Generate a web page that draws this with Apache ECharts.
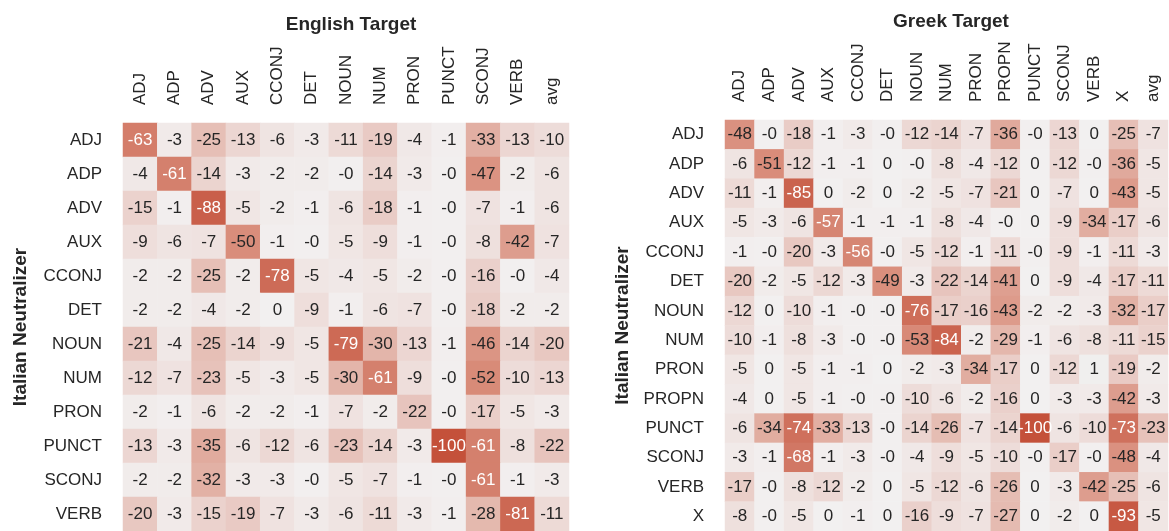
<!DOCTYPE html>
<html>
<head>
<meta charset="utf-8">
<script src="https://cdn.jsdelivr.net/npm/echarts@6/dist/echarts.min.js"></script>
<style>
  html, body { margin: 0; padding: 0; background: #fff; }
  #chart { width: 1169px; height: 531px; }
</style>
</head>
<body>
<div id="chart"></div>
<script>
// -0.3 stands for cells printed as "-0"
const englishCols = ['ADJ', 'ADP', 'ADV', 'AUX', 'CCONJ', 'DET', 'NOUN', 'NUM', 'PRON', 'PUNCT', 'SCONJ', 'VERB', 'avg'];
const englishRows = ['ADJ', 'ADP', 'ADV', 'AUX', 'CCONJ', 'DET', 'NOUN', 'NUM', 'PRON', 'PUNCT', 'SCONJ', 'VERB'];
const englishValues = [
  [-63, -3, -25, -13, -6, -3, -11, -19, -4, -1, -33, -13, -10],
  [-4, -61, -14, -3, -2, -2, -0.3, -14, -3, -0.3, -47, -2, -6],
  [-15, -1, -88, -5, -2, -1, -6, -18, -1, -0.3, -7, -1, -6],
  [-9, -6, -7, -50, -1, -0.3, -5, -9, -1, -0.3, -8, -42, -7],
  [-2, -2, -25, -2, -78, -5, -4, -5, -2, -0.3, -16, -0.3, -4],
  [-2, -2, -4, -2, 0, -9, -1, -6, -7, -0.3, -18, -2, -2],
  [-21, -4, -25, -14, -9, -5, -79, -30, -13, -1, -46, -14, -20],
  [-12, -7, -23, -5, -3, -5, -30, -61, -9, -0.3, -52, -10, -13],
  [-2, -1, -6, -2, -2, -1, -7, -2, -22, -0.3, -17, -5, -3],
  [-13, -3, -35, -6, -12, -6, -23, -14, -3, -100, -61, -8, -22],
  [-2, -2, -32, -3, -3, -0.3, -5, -7, -1, -0.3, -61, -1, -3],
  [-20, -3, -15, -19, -7, -3, -6, -11, -3, -1, -28, -81, -11]
];

const greekCols = ['ADJ', 'ADP', 'ADV', 'AUX', 'CCONJ', 'DET', 'NOUN', 'NUM', 'PRON', 'PROPN', 'PUNCT', 'SCONJ', 'VERB', 'X', 'avg'];
const greekRows = ['ADJ', 'ADP', 'ADV', 'AUX', 'CCONJ', 'DET', 'NOUN', 'NUM', 'PRON', 'PROPN', 'PUNCT', 'SCONJ', 'VERB', 'X'];
const greekValues = [
  [-48, -0.3, -18, -1, -3, -0.3, -12, -14, -7, -36, -0.3, -13, 0, -25, -7],
  [-6, -51, -12, -1, -1, 0, -0.3, -8, -4, -12, 0, -12, -0.3, -36, -5],
  [-11, -1, -85, 0, -2, 0, -2, -5, -7, -21, 0, -7, 0, -43, -5],
  [-5, -3, -6, -57, -1, -1, -1, -8, -4, -0.3, 0, -9, -34, -17, -6],
  [-1, -0.3, -20, -3, -56, -0.3, -5, -12, -1, -11, -0.3, -9, -1, -11, -3],
  [-20, -2, -5, -12, -3, -49, -3, -22, -14, -41, 0, -9, -4, -17, -11],
  [-12, 0, -10, -1, -0.3, -0.3, -76, -17, -16, -43, -2, -2, -3, -32, -17],
  [-10, -1, -8, -3, -0.3, -0.3, -53, -84, -2, -29, -1, -6, -8, -11, -15],
  [-5, 0, -5, -1, -1, 0, -2, -3, -34, -17, 0, -12, 1, -19, -2],
  [-4, 0, -5, -1, -0.3, -0.3, -10, -6, -2, -16, 0, -3, -3, -42, -3],
  [-6, -34, -74, -33, -13, -0.3, -14, -26, -7, -14, -100, -6, -10, -73, -23],
  [-3, -1, -68, -1, -3, -0.3, -4, -9, -5, -10, -0.3, -17, -0.3, -48, -4],
  [-17, -0.3, -8, -12, -2, 0, -5, -12, -6, -26, 0, -3, -42, -25, -6],
  [-8, -0.3, -5, 0, -1, 0, -16, -9, -7, -27, 0, -2, 0, -93, -5]
];

const font = '"Liberation Sans", Arial, sans-serif';
const textDark = '#262626';

function toCells(values) {
  const out = [];
  values.forEach((row, r) => {
    row.forEach((v, c) => {
      out.push({
        value: [c, r, v],
        label: { color: v < -54 ? '#ffffff' : textDark }
      });
    });
  });
  return out;
}

function xAxisFor(cols, gridIndex) {
  return {
    type: 'category',
    gridIndex: gridIndex,
    position: 'top',
    data: cols,
    axisLine: { show: false },
    axisTick: { show: false },
    splitLine: { show: false },
    axisLabel: {
      rotate: -90,
      margin: 18,
      color: textDark,
      fontSize: 17,
      fontFamily: font,
      interval: 0
    }
  };
}

function yAxisFor(rows, gridIndex, gap) {
  return {
    type: 'category',
    gridIndex: gridIndex,
    inverse: true,
    data: rows,
    name: 'Italian Neutralizer',
    nameLocation: 'middle',
    nameGap: gap,
    nameTextStyle: {
      color: textDark,
      fontSize: 19,
      fontWeight: 'bold',
      fontFamily: font
    },
    axisLine: { show: false },
    axisTick: { show: false },
    splitLine: { show: false },
    axisLabel: {
      margin: 21,
      color: textDark,
      fontSize: 17,
      fontFamily: font,
      interval: 0
    }
  };
}

function heatSeries(values, idx) {
  return {
    type: 'heatmap',
    xAxisIndex: idx,
    yAxisIndex: idx,
    data: toCells(values),
    label: {
      show: true,
      fontSize: 17,
      fontFamily: font,
      formatter: (p) => p.value[2].toFixed(0)
    },
    itemStyle: { borderWidth: 0 },
    emphasis: { disabled: true }
  };
}

const chart = echarts.init(document.getElementById('chart'));
chart.setOption({
  backgroundColor: '#ffffff',
  animation: false,
  title: [
    {
      text: 'English Target',
      left: 346,
      top: 10,
      textAlign: 'center',
      textStyle: { color: textDark, fontSize: 19, fontWeight: 'bold', fontFamily: font }
    },
    {
      text: 'Greek Target',
      left: 946,
      top: 7,
      textAlign: 'center',
      textStyle: { color: textDark, fontSize: 19, fontWeight: 'bold', fontFamily: font }
    }
  ],
  grid: [
    { left: 123, top: 123, width: 446, height: 411.6 },
    { left: 725, top: 120, width: 443, height: 413 }
  ],
  xAxis: [xAxisFor(englishCols, 0), xAxisFor(greekCols, 1)],
  yAxis: [yAxisFor(englishRows, 0, 93), yAxisFor(greekRows, 1, 93)],
  visualMap: {
    show: false,
    type: 'continuous',
    seriesIndex: [0, 1],
    dimension: 2,
    min: -100,
    max: 100,
    inRange: {
      color: ['#c4513a', '#d98d7b', '#f2f0f0', '#8fbf9c', '#3f8f5f']
    }
  },
  series: [heatSeries(englishValues, 0), heatSeries(greekValues, 1)]
});
</script>
</body>
</html>
